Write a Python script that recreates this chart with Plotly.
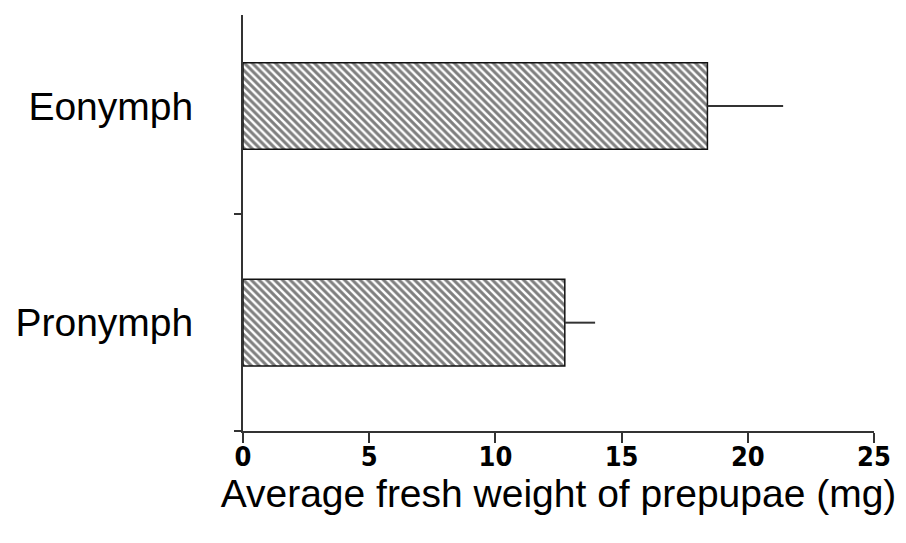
import plotly.graph_objects as go

categories = ["Pronymph", "Eonymph"]
values = [12.75, 18.4]
errors_plus = [1.2, 3.0]
x_ticks = [0, 5, 10, 15, 20, 25]
x_title = "Average fresh weight of prepupae (mg)"

fig = go.Figure()
fig.add_trace(go.Bar(
    y=categories,
    x=values,
    orientation="h",
    width=0.4,
    marker=dict(
        color="white",
        line=dict(color="#111", width=1.5),
        pattern=dict(shape="\\", fgcolor="#000", bgcolor="white", size=5.5, solidity=0.55),
    ),
    error_x=dict(type="data", array=errors_plus, arrayminus=[0, 0], symmetric=False,
                 color="#333", thickness=2, width=0),
))

fig.update_layout(
    width=906, height=543,
    margin=dict(l=232, r=40, t=7, b=120),
    plot_bgcolor="white", paper_bgcolor="white",
    showlegend=False,
    font=dict(family="Liberation Sans, Arial, sans-serif", color="black"),
)
fig.update_xaxes(
    range=[0, 25], tickvals=x_ticks, ticks="outside", ticklen=10, tickwidth=2,
    tickcolor="#333", showline=True, linecolor="#333", linewidth=2, showgrid=False,
    zeroline=False,
    tickfont=dict(family="DejaVu Sans Condensed, Liberation Sans Narrow, DejaVu Sans", size=27, weight="bold"),
    ticklabelstandoff=-9,
    title=dict(text=x_title, font=dict(size=39), standoff=4),
)
fig.update_yaxes(
    type="category", categoryarray=categories, range=[-0.5, 1.42],
    tickson="boundaries", ticks="outside", ticklen=7, tickwidth=2, tickcolor="#333",
    showline=True, linecolor="#333", linewidth=2, showgrid=False,
    tickfont=dict(size=39), ticklabelstandoff=40,
)
fig.write_html("out.html")
